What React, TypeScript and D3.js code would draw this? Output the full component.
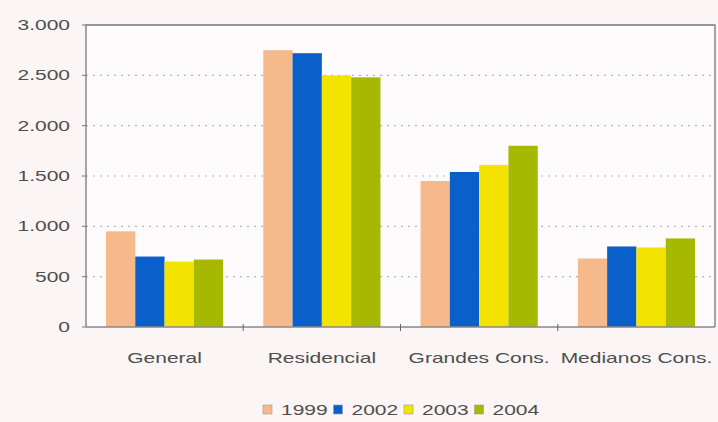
import React, { useRef, useEffect } from 'react'
import * as d3 from "d3";

const categories = ["General", "Residencial", "Grandes Cons.", "Medianos Cons."];
const years = ["1999", "2002", "2003", "2004"];
const v1999 = [950, 2750, 1450, 680];
const v2002 = [700, 2720, 1540, 800];
const v2003 = [650, 2500, 1610, 790];
const v2004 = [670, 2480, 1800, 880];
const yTicks = [0, 500, 1000, 1500, 2000, 2500, 3000];
const colors = ["#f5b98c", "#0b5fca", "#f3e400", "#a6b800"];

const FONT = "Liberation Sans, Arial, sans-serif";
const SX = 1.5; // the scanned chart's text is stretched horizontally

function App() {
    const ref = useRef(null);

    useEffect(() => {
        const width = 718, height = 422;
        const margin = { top: 25, right: 3, bottom: 95, left: 86 };
        const svg = d3.select(ref.current);
        svg.selectAll("*").remove();
        svg.attr("width", width).attr("height", height);

        svg.append("rect").attr("width", width).attr("height", height).attr("fill", "#fbf6f5");

        const innerW = width - margin.left - margin.right;
        const innerH = height - margin.top - margin.bottom;
        const g = svg.append("g").attr("transform", `translate(${margin.left},${margin.top})`);

        g.append("rect").attr("width", innerW).attr("height", innerH).attr("fill", "#fdfbfb");

        const series = [v1999, v2002, v2003, v2004];
        const data = categories.map((c, i) => ({ cat: c, vals: series.map((s, k) => ({ year: years[k], v: s[i] })) }));

        const x0 = d3.scaleBand().domain(categories).range([0, innerW]).paddingInner(0.255).paddingOuter(0.127);
        const x1 = d3.scaleBand().domain(years).range([0, x0.bandwidth()]);
        const y = d3.scaleLinear().domain([0, 3000]).range([innerH, 0]);
        const color = d3.scaleOrdinal().domain(years).range(colors);

        // stretched text helper
        const label = (sel, anchor) => sel.append("text")
            .attr("transform", `scale(${SX},1)`)
            .attr("text-anchor", anchor)
            .attr("font-family", FONT)
            .attr("font-size", 14)
            .attr("fill", "#4e4e4e");

        // gridlines
        g.selectAll(".grid")
            .data(yTicks.filter(t => t > 0 && t < 3000))
            .enter().append("line")
            .attr("x1", 0).attr("x2", innerW)
            .attr("y1", d => y(d)).attr("y2", d => y(d))
            .attr("stroke", "#b8b4b4").attr("stroke-width", 1.2)
            .attr("stroke-dasharray", "2,5");

        // bars
        const groups = g.selectAll(".grp").data(data).enter().append("g")
            .attr("transform", d => `translate(${x0(d.cat)},0)`);
        groups.selectAll("rect").data(d => d.vals).enter().append("rect")
            .attr("x", d => x1(d.year))
            .attr("y", d => y(d.v))
            .attr("width", x1.bandwidth())
            .attr("height", d => innerH - y(d.v))
            .attr("fill", d => color(d.year));

        // frame
        g.append("path")
            .attr("d", `M0,${innerH}V0H${innerW}V${innerH}`)
            .attr("fill", "none").attr("stroke", "#777").attr("stroke-width", 1.3);
        g.append("line").attr("x1", 0).attr("x2", innerW).attr("y1", innerH).attr("y2", innerH)
            .attr("stroke", "#888").attr("stroke-width", 1.3);

        // y axis ticks & labels
        const fmt = d3.formatLocale({ decimal: ",", thousands: ".", grouping: [3], currency: ["", ""] }).format(",");
        g.selectAll(".ytick").data(yTicks).enter().append("line")
            .attr("x1", -4).attr("x2", 0).attr("y1", d => y(d)).attr("y2", d => y(d))
            .attr("stroke", "#777");
        g.selectAll(".ylab").data(yTicks).enter().append("g")
            .attr("transform", d => `translate(-16,${y(d)})`)
            .each(function (d) {
                label(d3.select(this), "end").attr("dy", "0.35em").text(fmt(d));
            });

        // x ticks between categories
        const sepX = categories.slice(1).map(c => x0(c) - x0.step() * x0.paddingInner() / 2);
        g.selectAll(".xtick").data(sepX).enter().append("line")
            .attr("x1", d => d).attr("x2", d => d).attr("y1", innerH - 3).attr("y2", innerH + 4)
            .attr("stroke", "#666");

        // category labels
        g.selectAll(".xlab").data(categories).enter().append("g")
            .attr("transform", d => `translate(${x0(d) + x0.bandwidth() / 2},${innerH + 36})`)
            .each(function (d) {
                label(d3.select(this), "middle").text(d);
            });

        // legend
        const legend = svg.append("g").attr("transform", "translate(263,405)");
        const item = legend.selectAll(".leg").data(years).enter().append("g")
            .attr("transform", (d, i) => `translate(${i * 70.5},0)`);
        item.append("rect").attr("width", 9).attr("height", 9)
            .attr("fill", d => color(d)).attr("stroke", "#999").attr("stroke-width", 0.6);
        item.append("g").attr("transform", "translate(18,5)")
            .each(function (d) {
                label(d3.select(this), "start").attr("dy", "0.35em").text(d);
            });
    }, []);

    return (
        <div style={{ position: "absolute", left: 0, top: 0 }}>
            <svg ref={ref}></svg>
        </div>
    )
}

export default App
